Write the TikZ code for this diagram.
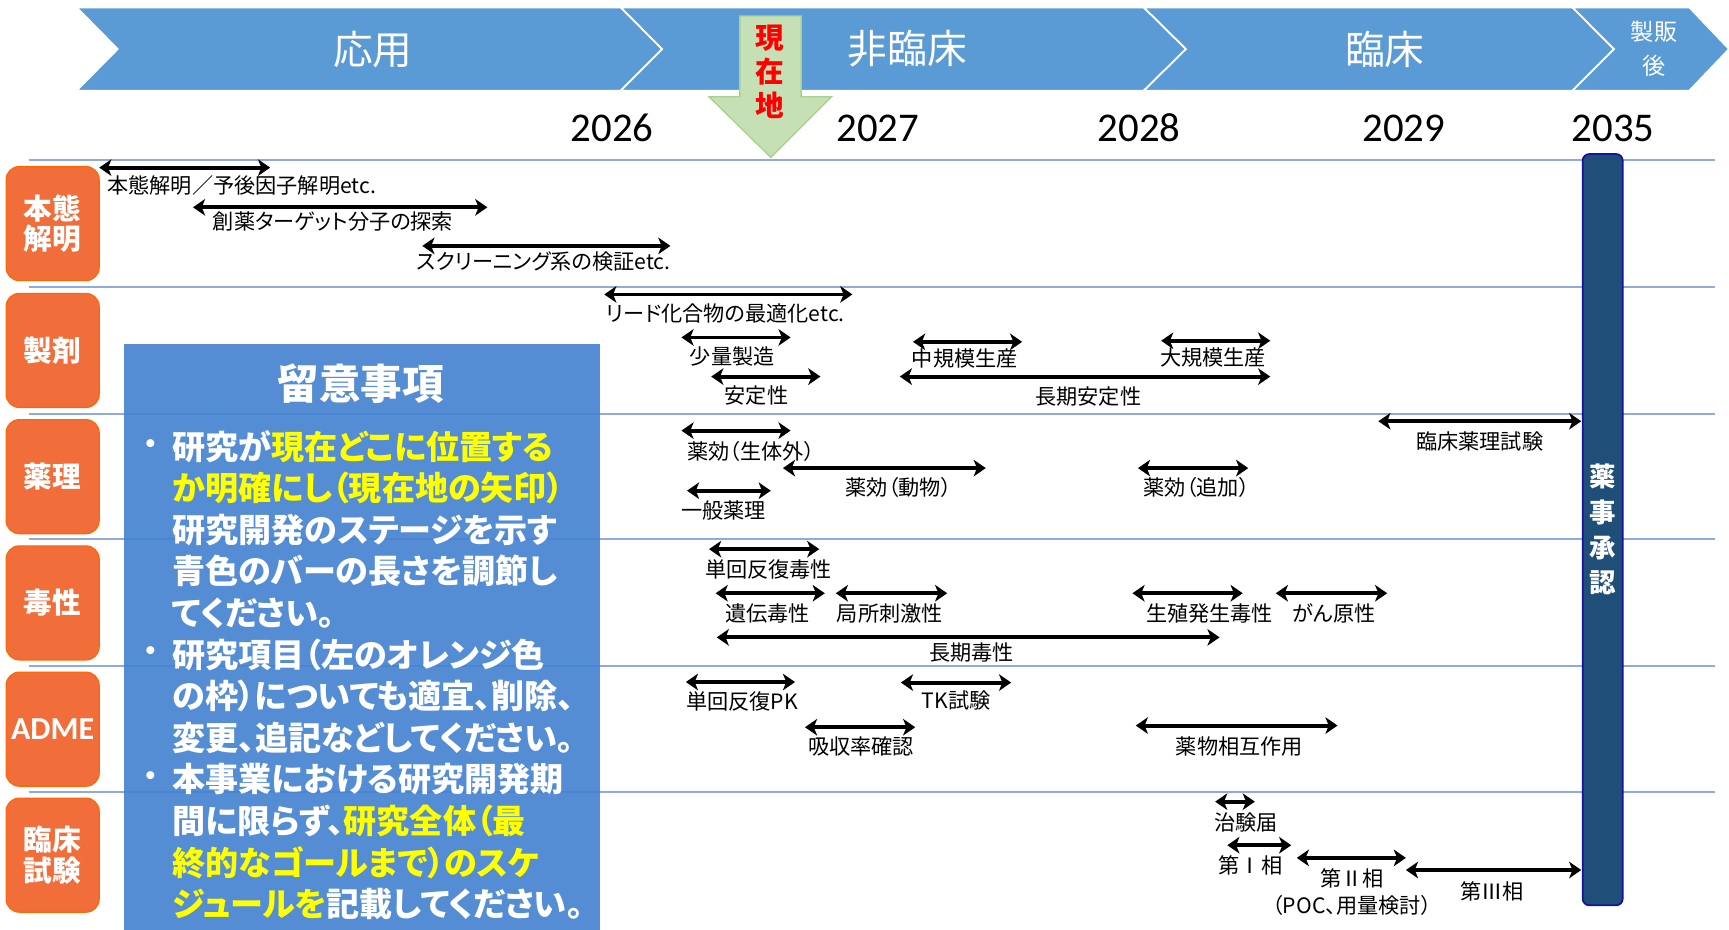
\documentclass[tikz,border=0pt]{standalone}
\usepackage{fontspec}
\setmainfont{Carlito}
\newfontfamily\jp[RawFeature=+palt]{Noto Sans CJK JP}
\newfontfamily\jpm{Noto Sans CJK JP}
\usetikzlibrary{arrows.meta}
\definecolor{chev}{RGB}{91,155,213}
\definecolor{sepline}{RGB}{143,170,220}
\definecolor{rowor}{RGB}{241,110,58}
\definecolor{rowbd}{RGB}{255,102,0}
\definecolor{notebg}{RGB}{66,129,208}
\definecolor{navy}{RGB}{31,78,121}
\definecolor{navybd}{RGB}{20,20,160}
\definecolor{nowfill}{RGB}{197,224,180}
\definecolor{nowbd}{RGB}{169,209,142}
\definecolor{hl}{RGB}{255,255,0}
\newcommand\hly[1]{\textcolor{hl}{#1}}
\newcommand\gantt[7]{%
  \coordinate (#1s) at (#2,#4);
  \coordinate (#1e) at (#3,#4);
  \draw[gant] (#1s) -- (#1e);
  \node[lbl] (#1) at (#5,#6) {#7};}
\begin{document}
\begin{tikzpicture}[x=0.5pt,y=-0.5pt,
  chevshape/.style={fill=chev,draw=white,line width=0.8pt},
  chevtxt/.style={text=white,font=\jpm\fontsize{18}{20}\selectfont,inner sep=0},
  yeartxt/.style={font=\fontsize{18.5}{20}\selectfont,inner sep=0},
  sep/.style={draw=sepline,line width=0.9pt},
  rowbox/.style={fill=rowor,draw=rowbd,line width=0.5pt,rounded corners=6pt,
    minimum width=42.25pt,minimum height=51.75pt,inner sep=0,text=white,align=center,
    font=\jpm\bfseries\fontsize{13}{14}\selectfont},
  gant/.style={{Stealth[length=5.5pt,width=7.5pt,inset=1.5pt]}-{Stealth[length=5.5pt,width=7.5pt,inset=1.5pt]},line width=1.75pt},
  lbl/.style={font=\jp\fontsize{9.6}{12}\selectfont,inner sep=0,align=center},
  notetxt/.style={font=\jp\bfseries\fontsize{15}{17}\selectfont,text=white,inner sep=0,anchor=west},
  bul/.style={font=\jpm\bfseries\fontsize{13}{17}\selectfont,text=white,inner sep=0}
]
\useasboundingbox (0,0) rectangle (1568,843);

% phase chevrons
\path[chevshape] (69.5,6.7) -- (563,6.7) -- (600.5,44.5) -- (563,82.2) -- (69.5,82.2) -- (106.7,44.5) -- cycle;
\path[chevshape] (563,6.7) -- (1037.3,6.7) -- (1075.5,44.5) -- (1037.3,82.2) -- (563,82.2) -- (600.5,44.5) -- cycle;
\path[chevshape] (1037.3,6.7) -- (1426,6.7) -- (1463.7,44.5) -- (1426,82.2) -- (1037.3,82.2) -- (1075.5,44.5) -- cycle;
\path[chevshape] (1426,6.7) -- (1532,6.7) -- (1568,44.5) -- (1532,82.2) -- (1426,82.2) -- (1463.7,44.5) -- cycle;
\node[chevtxt] (ph1) at (338,44.5) {応用};
\node[chevtxt] (ph2) at (823,44.5) {非臨床};
\node[chevtxt] (ph3) at (1256,44.5) {臨床};
\node[chevtxt,font=\jpm\fontsize{10.5}{12}\selectfont] (ph4a) at (1500,28.7) {製販};
\node[chevtxt,font=\jpm\fontsize{10.5}{12}\selectfont] (ph4b) at (1500,60) {後};

% current position arrow
\path[fill=nowfill,draw=nowbd,line width=0.6pt] (671,14.5) -- (726.5,14.5) -- (726.5,87.7) -- (754,87.7) -- (699,142.7) -- (643,87.7) -- (671,87.7) -- cycle;
\node[font=\jpm\bfseries\fontsize{13}{15.5}\selectfont,text=red,align=center,inner sep=0] (now) at (698.5,65) {現\\在\\地};

% years
\node[yeartxt] (y26) at (555,116) {2026};
\node[yeartxt] (y27) at (796,116) {2027};
\node[yeartxt] (y28) at (1033,116) {2028};
\node[yeartxt] (y29) at (1273,116) {2029};
\node[yeartxt] (y35) at (1463,116) {2035};

% row separators
\foreach \yy in {145,260,375,489,604,718} \draw[sep] (26,\yy) -- (1555,\yy);

% row labels
\node[rowbox] (r1) at (47.75,202.75) {本態\\解明};
\node[rowbox] (r2) at (47.75,317.75) {製剤};
\node[rowbox] (r3) at (47.75,432.25) {薬理};
\node[rowbox] (r4) at (47.75,546.75) {毒性};
\node[rowbox,font=\bfseries\fontsize{14.5}{16}\selectfont] (r5) at (47.75,661.25) {ADME};
\node[rowbox] (r6) at (47.75,775.5) {臨床\\試験};

% schedule bars
\coordinate (a1s) at (90,152); \coordinate (a1e) at (245,152);
\draw[gant] (a1s) -- (a1e);
\node[lbl,anchor=west] (a1) at (97,168.5) {本態解明／予後因子解明etc.};
\gantt{a2}{175}{442}{188}{302}{201}{創薬ターゲット分子の探索}
\gantt{a3}{383}{608}{223}{493}{237}{スクリーニング系の検証etc.}
\gantt{a4}{548}{773}{267}{658}{284}{リード化合物の最適化etc.}
\gantt{a5}{618}{717}{306}{664}{323}{少量製造}
\gantt{a6}{645}{744}{341.5}{686}{359}{安定性}
\gantt{a7}{828}{927}{310}{875}{325}{中規模生産}
\gantt{a8}{1053}{1152}{309}{1100}{324}{大規模生産}
\gantt{a9}{816}{1152}{341.5}{987}{359.5}{長期安定性}
\gantt{a10}{618}{717}{390.5}{681}{409}{薬効（生体外）}
\gantt{a11}{710}{894}{424.5}{815}{442}{薬効（動物）}
\gantt{a12}{623}{699}{445}{656}{462.5}{一般薬理}
\gantt{a13}{1032}{1132}{424.5}{1085}{442}{薬効（追加）}
\gantt{a14}{1250}{1434}{382}{1342}{400}{臨床薬理試験}
\gantt{a15}{643}{743}{498}{697}{516.5}{単回反復毒性}
\gantt{a16}{649}{748}{538}{696}{556}{遺伝毒性}
\gantt{a17}{758}{859}{538}{807}{556}{局所刺激性}
\gantt{a18}{1027}{1127}{538}{1097}{556}{生殖発生毒性}
\gantt{a19}{1157}{1258}{538}{1210}{556}{がん原性}
\gantt{a20}{650}{1106}{578}{881}{592}{長期毒性}
\gantt{a21}{622}{721}{618.5}{673}{636}{単回反復PK}
\gantt{a22}{817}{917}{619}{867}{635}{TK試験}
\gantt{a23}{730}{830}{659.5}{781}{677}{吸収率確認}
\gantt{a24}{1030}{1213}{658}{1124}{677}{薬物相互作用}
\gantt{a25}{1102}{1138}{727}{1130}{746}{治験届}
\gantt{a26}{1113}{1171}{766.5}{1134}{784.5}{第Ⅰ相}
\gantt{a27}{1176}{1275}{778}{1226}{809}{第Ⅱ相\\（POC、用量検討）}
\gantt{a28}{1275}{1434}{789}{1353}{808}{第Ⅲ相}

% notes box
\node[fill=notebg,fill opacity=0.9,draw=none,anchor=north west,minimum width=216pt,minimum height=265.5pt,inner sep=0] (note) at (112,312) {};
\node[font=\jp\bfseries\fontsize{18.8}{20}\selectfont,text=white,inner sep=0] (ttl) at (327,348) {留意事項};
\node[bul] (b1) at (137,405) {・};
\node[bul] (b2) at (137,593.5) {・};
\node[bul] (b3) at (137,706.6) {・};
\node[notetxt] (n1) at (156,405) {研究が\hly{現在どこに位置する}};
\node[notetxt] (n2) at (156,442.7) {\hly{か明確にし（現在地の矢印）}};
\node[notetxt] (n3) at (156,480.4) {研究開発のステージを示す};
\node[notetxt] (n4) at (156,518) {青色のバーの長さを調節し};
\node[notetxt] (n5) at (156,555.8) {てください。};
\node[notetxt] (n6) at (156,593.5) {研究項目（左のオレンジ色};
\node[notetxt] (n7) at (156,631.2) {の枠）についても適宜、削除、};
\node[notetxt] (n8) at (156,669) {変更、追記などしてください。};
\node[notetxt] (n9) at (156,706.6) {本事業における研究開発期};
\node[notetxt] (n10) at (156,744.3) {間に限らず、\hly{研究全体（最}};
\node[notetxt] (n11) at (156,782) {\hly{終的なゴールまで）のスケ}};
\node[notetxt] (n12) at (156,819.7) {\hly{ジュールを}記載してください。};

% approval bar
\node[fill=navy,draw=navybd,line width=0.8pt,rounded corners=3pt,minimum width=18.15pt,minimum height=340.65pt,inner sep=0,
  text=white,align=center,font=\jpm\bfseries\fontsize{12}{16}\selectfont] (appr) at (1453.45,480.35) {薬\\事\\承\\認};
\end{tikzpicture}
\end{document}
